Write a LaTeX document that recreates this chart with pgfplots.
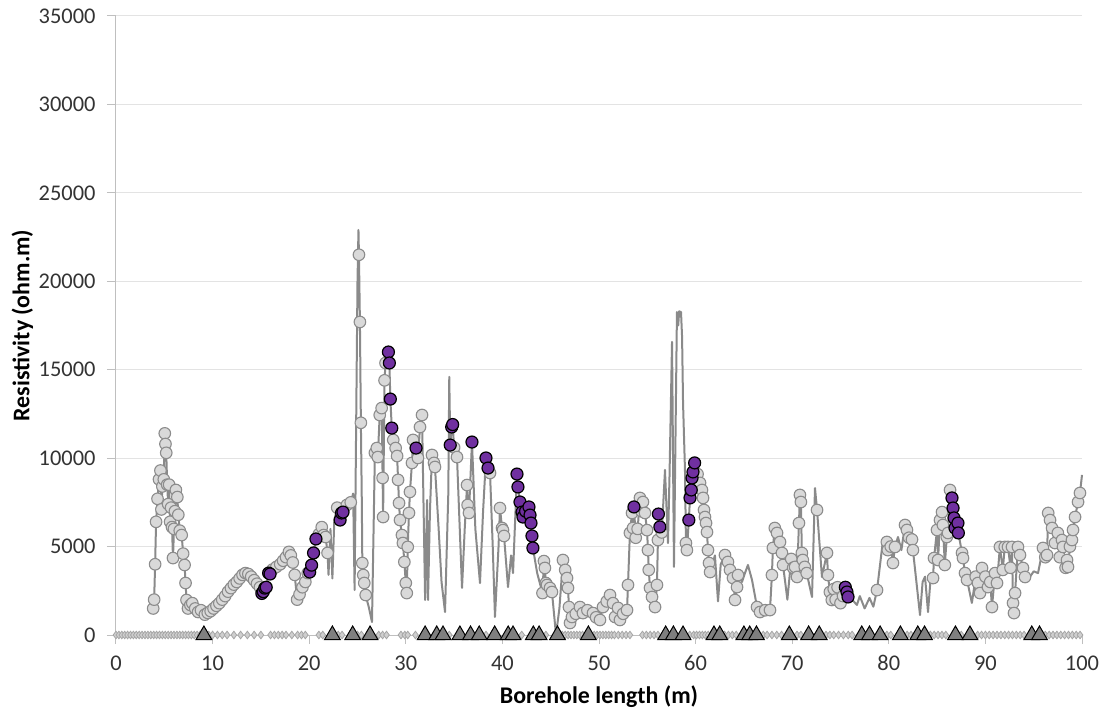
\documentclass[border=0pt]{standalone}
\usepackage{pgfplots}
\pgfplotsset{compat=1.18}
\usepackage{pgfplotstable}
\usepackage{fontspec}
\setmainfont{Carlito}
\definecolor{linegray}{HTML}{8A8A8A}
\definecolor{markfill}{HTML}{D9D9D9}
\definecolor{markedge}{HTML}{8C8C8C}
\definecolor{purp}{HTML}{7030A0}
\definecolor{trifill}{HTML}{7F7F7F}
\definecolor{diafill}{HTML}{CFCFCF}
\definecolor{diaedge}{HTML}{A6A6A6}
\definecolor{axgray}{HTML}{BFBFBF}
\definecolor{gridgray}{HTML}{E3E3E3}
\definecolor{labgray}{HTML}{333333}
\pgfplotstableread{
x y c
3.85 1500 1
3.95 2000 1
4.05 4000 1
4.15 6400 1
4.3 7700 1
4.45 8800 1
4.6 9300 1
4.7 7100 1
4.8 8400 1
4.95 8800 1
5.05 11400 1
5.12 10800 1
5.2 10300 1
5.3 8500 1
5.4 7400 1
5.5 8500 1
5.6 6400 1
5.7 7200 1
5.8 6100 1
5.9 4350 1
6.0 6000 1
6.1 7000 1
6.2 8200 1
6.35 7800 1
6.45 6800 1
6.6 5900 1
6.8 5650 1
6.95 4600 1
7.1 3960 1
7.2 2940 1
7.3 1980 1
7.45 1500 1
7.7 1700 1
7.9 1800 1
8.2 1500 1
8.5 1300 1
8.8 1400 1
9.2 1150 1
9.5 1250 1
9.8 1350 1
10.1 1500 1
10.4 1650 1
10.7 1800 1
11.0 2000 1
11.3 2200 1
11.6 2450 1
11.9 2650 1
12.2 2850 1
12.5 3000 1
12.8 3200 1
13.1 3400 1
13.4 3500 1
13.7 3450 1
14.0 3300 1
14.3 3100 1
14.6 2900 1
14.9 2700 1
15.1 2350 2
15.25 2450 2
15.4 2650 2
15.55 2700 2
15.8 3500 2
15.95 3450 2
16.2 3700 1
16.6 3850 1
17.0 4000 1
17.3 4200 1
17.6 4400 1
17.9 4700 1
18.1 4500 1
18.3 4100 1
18.5 3400 1
18.75 2000 1
19.0 2300 1
19.3 2700 1
19.6 3000 1
19.85 3500 1
20.05 3560 2
20.25 3950 2
20.45 4640 2
20.7 5430 2
21.0 5700 1
21.3 6100 1
21.5 5650 1
21.7 5540 1
21.9 4640 1
22.0 3400 0
22.2 6000 0
22.4 3200 0
22.6 6500 0
22.9 7200 1
23.2 6500 2
23.35 6900 2
23.5 6950 2
23.9 7350 1
24.3 7500 1
24.55 8000 0
24.7 2540 0
25.0 20000 0
25.1 22900 0
25.15 21500 1
25.25 17700 1
25.35 12000 1
25.45 7350 0
25.5 4070 1
25.6 3390 1
25.7 2940 1
25.85 2260 1
26.2 1500 0
26.5 735 0
26.8 10300 1
27.0 10570 1
27.1 10060 1
27.3 12440 1
27.5 12830 1
27.6 8880 1
27.65 6670 1
27.8 14400 1
27.9 15380 1
28.2 16000 2
28.3 15380 2
28.4 13340 2
28.55 11700 2
28.7 11030 1
28.95 10570 1
29.1 10120 1
29.2 8770 1
29.3 7460 1
29.4 6500 1
29.6 5650 1
29.7 5200 1
29.85 4130 1
30.0 2940 1
30.1 2370 1
30.2 4980 1
30.33 6900 1
30.43 8090 1
30.64 9730 1
30.75 11030 1
31.06 10570 2
31.26 10010 1
31.47 11760 1
31.68 12440 1
32.0 1980 0
32.2 7630 0
32.3 1980 0
32.5 7000 0
32.71 10180 1
32.92 9730 1
33.02 9500 1
33.4 6000 0
33.7 3000 0
34.06 1300 0
34.4 8000 0
34.5 14590 0
34.6 10740 2
34.75 11760 2
34.85 11900 2
35.0 10600 1
35.3 10060 1
35.82 2660 0
36.1 6000 0
36.34 8480 1
36.4 7350 1
36.54 6900 1
36.85 10910 2
37.2 6000 0
37.68 2940 0
38.0 7000 0
38.3 10010 2
38.51 9440 2
38.72 9160 1
39.0 5000 0
39.23 1020 0
39.6 5000 0
39.75 7180 1
39.96 6050 1
40.06 5930 1
40.17 5600 1
40.58 2710 0
40.9 4500 0
41.1 3500 0
41.51 9100 2
41.61 8370 2
41.82 7520 2
42.03 6950 2
42.13 6670 2
42.4 7000 2
42.75 7240 2
42.86 6780 2
42.96 6330 2
43.06 5600 2
43.16 4920 2
43.6 3500 0
44.15 2370 1
44.3 4180 1
44.4 3790 1
44.5 2940 1
44.62 2830 1
44.93 2660 1
45.13 2430 1
45.55 0 0
45.9 1500 0
46.27 4240 1
46.5 3680 1
46.69 3220 1
46.79 2660 1
46.89 1580 1
47.0 680 1
47.2 1020 1
47.6 1200 1
48.03 1580 1
48.34 1240 1
48.8 1400 1
49.38 1240 1
49.7 1000 1
50.1 850 1
50.41 1580 1
50.8 1900 1
51.14 2260 1
51.45 1800 1
51.66 1020 1
51.97 1530 1
52.17 850 1
52.5 1200 1
52.9 1410 1
53.0 2830 1
53.2 5770 1
53.42 6900 1
53.52 6050 1
53.62 7240 2
53.8 5500 1
54.0 6000 1
54.24 7750 1
54.4 7000 1
54.55 7520 1
54.76 6900 1
54.97 5930 1
55.07 4800 1
55.15 3680 1
55.28 2660 1
55.49 2150 1
55.8 1580 1
56.0 2830 1
56.1 5370 1
56.15 6840 2
56.3 6110 2
56.5 5800 1
56.83 9330 0
57.14 5200 0
57.3 9000 0
57.56 16570 0
57.76 3850 0
58.07 18260 0
58.2 17500 0
58.3 18300 0
58.49 18260 0
58.6 16850 0
58.7 13120 0
58.9 9330 0
59.0 5200 1
59.1 4800 1
59.3 6500 2
59.42 7750 2
59.55 8200 2
59.63 8880 2
59.73 9220 2
59.9 9730 2
60.2 9100 1
60.46 8600 1
60.66 8200 1
60.77 7750 1
60.87 7070 1
60.97 6670 1
61.08 6330 1
61.18 5820 1
61.28 4800 1
61.39 4070 1
61.5 3560 1
62.0 4500 0
62.32 1900 0
62.6 4000 0
63.04 4520 1
63.35 4130 1
63.56 3680 1
63.87 3220 1
64.08 1980 1
64.29 2710 1
64.39 3390 1
64.8 3000 0
65.11 3500 0
65.42 3960 0
65.84 3110 0
66.36 1580 1
66.67 1300 1
67.2 1400 1
67.7 1410 1
67.9 3390 1
68.0 4920 1
68.2 6050 1
68.43 5770 1
68.74 5260 1
68.94 4640 1
69.05 3960 1
69.5 2000 0
69.9 4300 1
70.1 3800 1
70.3 3850 1
70.5 3280 1
70.7 6330 1
70.8 7920 1
70.9 7520 1
71.0 4640 1
71.1 4240 1
71.3 3850 1
71.5 3500 1
72.05 2150 0
72.36 8310 0
72.57 7070 1
73.08 3280 0
73.6 4640 1
73.7 3390 1
73.9 2430 1
74.1 1980 1
74.3 2600 1
74.5 2000 1
74.7 2700 1
75.0 1800 1
75.26 2200 1
75.5 2700 2
75.67 2430 2
75.78 2150 2
76.2 2000 0
76.7 1700 0
77.0 2200 0
77.5 1500 0
78.0 2100 0
78.4 1600 0
78.78 2540 1
79.4 5370 0
79.8 5260 1
79.9 4800 1
80.2 5000 1
80.43 4070 1
80.64 4980 1
80.95 5540 0
81.3 4800 0
81.68 6220 1
81.88 5940 1
82.1 5500 1
82.4 5400 1
82.5 4800 1
83.23 1130 0
83.5 3000 0
83.75 3300 0
84.06 1300 0
84.3 3000 0
84.58 3220 1
84.68 4350 1
84.99 5940 1
85.1 4240 1
85.3 6500 1
85.51 6950 1
85.6 6220 1
85.8 3960 1
86.0 5540 1
86.13 5770 1
86.34 8200 1
86.54 7750 2
86.65 7180 2
86.75 6620 2
86.85 6050 2
87.16 6330 2
87.2 5770 2
87.58 4640 1
87.68 4350 1
87.89 3500 1
88.1 3110 1
88.6 1810 0
89.0 3300 1
89.23 2940 1
89.44 2370 1
89.65 3790 1
90.0 3300 1
90.27 2710 1
90.5 3000 1
90.68 1580 1
91.0 3500 1
91.2 2940 1
91.5 4980 1
91.8 3680 1
92.0 4980 1
92.34 4980 1
92.6 3800 1
92.75 4980 1
92.86 1810 1
92.96 1240 1
93.07 2370 1
93.37 4980 1
93.58 4520 1
93.89 3790 1
94.1 3280 1
94.6 3280 0
95.0 3600 0
95.45 3500 0
95.96 4920 1
96.2 4400 1
96.38 4520 1
96.5 6900 1
96.69 6500 1
96.9 6050 1
97.2 5200 1
97.5 5770 1
97.7 4400 1
97.93 5370 1
98.03 4980 1
98.3 3800 1
98.45 4240 1
98.55 3850 1
98.75 5000 1
98.96 5370 1
99.07 5940 1
99.28 6670 1
99.59 7520 1
99.79 8030 1
100.0 9050 0
}\resdata
\begin{document}
\begin{tikzpicture}
\begin{axis}[
  at={(0,0)}, anchor=south west,
  scale only axis, width=966bp, height=619bp,
  xmin=0, xmax=100, ymin=0, ymax=35000,
  clip=false,
  axis x line*=bottom, axis y line*=left,
  axis line style={draw=axgray, line width=1bp},
  xtick={0,10,...,100},
  xticklabels={0,10,20,30,40,50,60,70,80,90,100},
  ytick={0,5000,10000,15000,20000,25000,30000,35000},
  yticklabels={0,5000,10000,15000,20000,25000,30000,35000},
  tick align=outside,
  major tick length=9bp,
  tick style={draw=axgray, line width=1bp},
  ymajorgrids,
  major grid style={draw=gridgray, line width=1bp},
  /pgf/number format/assume math mode=true,
  ticklabel style={font=\fontsize{22.5}{26}\selectfont, text=labgray},
  yticklabel shift=8bp,
  xticklabel shift=8bp,
  xlabel={Borehole length (m)},
  ylabel={Resistivity (ohm.m)},
  every axis x label/.style={at={(axis description cs:0.5,-0.1002)}, anchor=center, font=\bfseries\fontsize{24}{28}\selectfont},
  every axis y label/.style={at={(axis description cs:-0.097,0.5)}, anchor=center, rotate=90, font=\bfseries\fontsize{24}{28}\selectfont},
]
% diamonds on axis
\addplot[only marks, mark=diamond*, mark size=3.8bp, mark options={fill=diafill, draw=diaedge, line width=0.8bp}] coordinates {
(0,0)(0.3,0)(0.6,0)(0.9,0)(1.2,0)(1.5,0)(1.8,0)(2.1,0)(2.4,0)(2.7,0)(3.0,0)(3.3,0)(3.6,0)(3.9,0)(4.2,0)(4.5,0)(4.8,0)(5.1,0)(5.4,0)(5.7,0)(6.0,0)(6.3,0)(6.6,0)(6.9,0)(7.2,0)(7.5,0)(7.8,0)(8.1,0)(8.4,0)(8.7,0)
(9.6,0)(10.0,0)(10.5,0)(11.0,0)(11.5,0)(12.2,0)(12.9,0)(13.6,0)(14.3,0)(15.0,0)
(16.0,0)(16.4,0)(16.8,0)(17.2,0)(17.6,0)(18.2,0)(18.8,0)(19.2,0)(19.6,0)
(21.0,0)(21.4,0)(23.0,0)(23.4,0)(25.0,0)(25.4,0)(27.2,0)(27.6,0)(28.0,0)(29.5,0)(29.9,0)(30.2,0)(31.0,0)(34.5,0)(38.3,0)(42.0,0)(44.5,0)
(46.2,0)(46.5,0)(46.8,0)(47.1,0)(47.4,0)(47.7,0)(48.0,0)(48.3,0)(49.5,0)(49.8,0)(50.1,0)(50.4,0)(50.7,0)(51.0,0)(51.3,0)(51.6,0)(52.0,0)(52.4,0)(52.8,0)(53.2,0)
(54.5,0)(54.9,0)(55.3,0)(55.7,0)(56.1,0)(59.4,0)(59.8,0)(60.1,0)(60.4,0)(60.7,0)(61.0,0)(61.3,0)(63.0,0)(63.4,0)(63.8,0)(64.2,0)
(67.0,0)(67.4,0)(67.9,0)(68.4,0)(68.9,0)(70.5,0)(70.9,0)(73.5,0)(73.9,0)(74.3,0)(74.8,0)(75.3,0)(75.8,0)(76.2,0)(79.8,0)(80.2,0)(81.9,0)(82.3,0)
(84.3,0)(84.7,0)(85.1,0)(85.5,0)(85.9,0)(87.5,0)(89.2,0)(89.6,0)(90.0,0)(90.4,0)(90.8,0)(91.2,0)(91.6,0)(92.0,0)(92.4,0)(92.8,0)(93.2,0)(93.6,0)(94.0,0)
(96.2,0)(96.6,0)(97.0,0)(97.4,0)(97.8,0)(98.2,0)(98.6,0)(99.0,0)(99.4,0)(99.8,0)
};
% resistivity line
\addplot[draw=linegray, line width=2bp, line join=round, no markers] table[x=x, y=y] {\resdata};
% gray markers
\addplot[only marks, mark=*, mark size=5.8bp, mark options={fill=markfill, draw=markedge, line width=1.1bp}, restrict expr to domain={\thisrow{c}}{1:1}] table[x=x, y=y] {\resdata};
% purple markers
\addplot[only marks, mark=*, mark size=6bp, mark options={fill=purp, draw=black, line width=1.2bp}, restrict expr to domain={\thisrow{c}}{2:2}] table[x=x, y=y] {\resdata};
% triangles
\addplot[only marks, mark=triangle*, mark size=9bp, mark options={fill=trifill, draw=black, line width=1bp}] coordinates {
(9.1,0)(22.4,0)(24.5,0)(26.3,0)(32.0,0)(33.2,0)(33.85,0)(35.6,0)(36.7,0)(37.6,0)(39.2,0)(40.6,0)(41.1,0)(43.2,0)(43.8,0)(45.7,0)(48.9,0)
(56.9,0)(57.7,0)(58.7,0)(61.9,0)(62.5,0)(65.0,0)(65.6,0)(66.3,0)(69.7,0)(71.7,0)(72.8,0)(77.2,0)(78.0,0)(79.1,0)(81.2,0)(83.0,0)(83.7,0)(86.9,0)(88.4,0)(94.8,0)(95.6,0)
};
\end{axis}
\pgfresetboundingbox
\path[use as bounding box] (-116bp,-77bp) rectangle (991bp,635bp);
\end{tikzpicture}
\end{document}
